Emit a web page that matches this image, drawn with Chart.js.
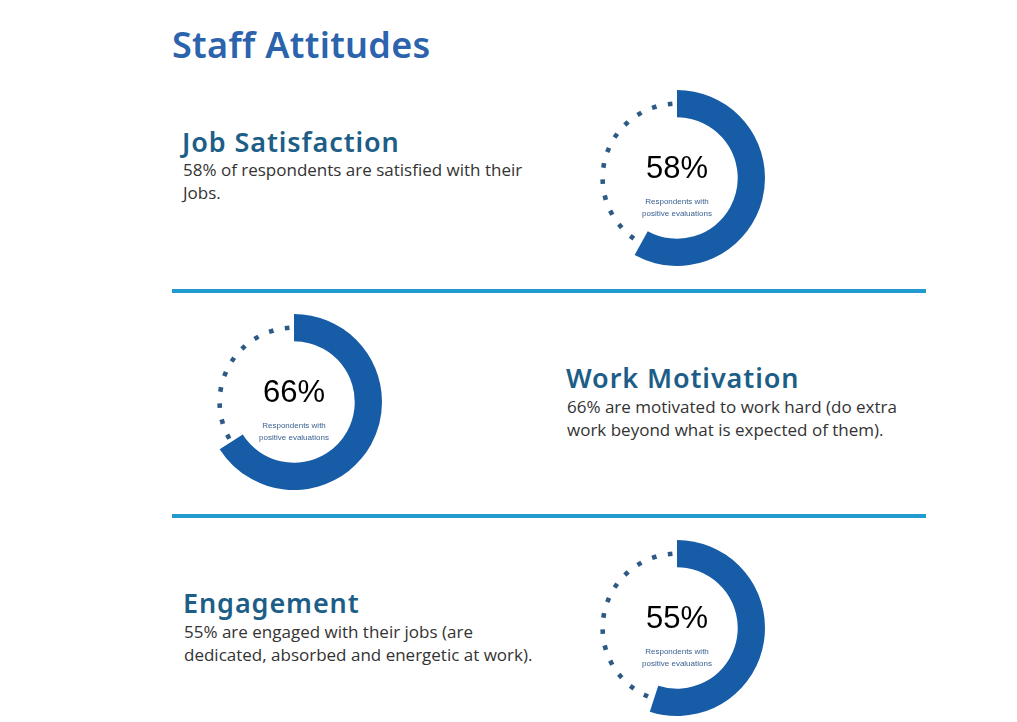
<!DOCTYPE html>
<html>
<head>
<meta charset="utf-8">
<script src="https://cdn.jsdelivr.net/npm/chart.js@4.4.0/dist/chart.umd.min.js"></script>
<style>
  body{margin:0;background:#fff;}
  #page{position:relative;width:1017px;height:722px;overflow:hidden;background:#fff;}
  .title{position:absolute;left:172px;top:27px;font-family:"Noto Sans",sans-serif;font-weight:600;font-size:36px;line-height:36px;letter-spacing:0.3px;color:#2b63ad;white-space:nowrap;}
  .head{position:absolute;font-family:"Noto Sans",sans-serif;font-weight:600;font-size:27px;line-height:27px;letter-spacing:0.9px;color:#1c5e87;white-space:nowrap;}
  .body{position:absolute;font-family:"Open Sans",sans-serif;font-size:17px;color:#333;line-height:23.5px;width:350px;}
  .rule{position:absolute;left:172px;width:754px;height:4px;background:#219ad0;}
  .ring{position:absolute;width:176px;height:176px;}
</style>
</head>
<body>
<div id="page">
  <div class="title">Staff Attitudes</div>

  <div class="head" id="h0" style="left:182px;top:128px;"></div>
  <div class="body" id="d0" style="left:183px;top:157.5px;"></div>
  <div class="ring" style="left:589px;top:90px;"><canvas id="c0" width="176" height="176"></canvas></div>

  <div class="rule" style="top:289px;"></div>

  <div class="ring" style="left:206px;top:314px;"><canvas id="c1" width="176" height="176"></canvas></div>
  <div class="head" id="h1" style="left:566px;top:364px;"></div>
  <div class="body" id="d1" style="left:567px;top:394.5px;"></div>

  <div class="rule" style="top:514px;"></div>

  <div class="head" id="h2" style="left:183px;top:589px;"></div>
  <div class="body" id="d2" style="left:184px;top:619.5px;"></div>
  <div class="ring" style="left:589px;top:540px;"><canvas id="c2" width="176" height="176"></canvas></div>
</div>
<script>
const titles=['Job Satisfaction','Work Motivation','Engagement'];
const percents=[58,66,55];
const descriptions=[
  '58% of respondents are satisfied with their Jobs.',
  '66% are motivated to work hard (do extra work beyond what is expected of them).',
  '55% are engaged with their jobs (are dedicated, absorbed and energetic at work).'
];
const centerNote=['Respondents with','positive evaluations'];

const ringColor='#175ca6';
const dotColor='#2c5a85';

// dotted track over the empty part + centre labels
const ringDecor={
  id:'ringDecor',
  afterDatasetsDraw(chart){
    const ctx=chart.ctx;
    const rest=chart.getDatasetMeta(0).data[1];
    const p=rest.getProps(['x','y','startAngle','endAngle','innerRadius','outerRadius'],true);
    const r=(p.innerRadius+p.outerRadius)/2;
    const step=12.5*Math.PI/180;
    let a=p.endAngle-5.3*Math.PI/180;
    ctx.save();
    ctx.fillStyle=dotColor;
    while(a>p.startAngle+2.5*Math.PI/180){
      ctx.save();
      ctx.translate(p.x+Math.cos(a)*r,p.y+Math.sin(a)*r);
      ctx.rotate(a);
      ctx.fillRect(-2.3,-2.3,4.6,4.6);
      ctx.restore();
      a-=step;
    }
    const i=chart.options.plugins.ringDecor.index;
    ctx.textAlign='center';
    ctx.textBaseline='alphabetic';
    ctx.fillStyle='#000';
    ctx.font='31px "Liberation Sans", Arial, sans-serif';
    ctx.fillText(percents[i]+'%',p.x,p.y+0);
    ctx.fillStyle='#3a6190';
    ctx.font='8px "Liberation Sans", Arial, sans-serif';
    ctx.fillText(centerNote[0],p.x,p.y+26);
    ctx.fillText(centerNote[1],p.x,p.y+38);
    ctx.restore();
  }
};

titles.forEach((t,i)=>{
  document.getElementById('h'+i).textContent=t;
  document.getElementById('d'+i).textContent=descriptions[i];
  new Chart(document.getElementById('c'+i).getContext('2d'),{
    type:'doughnut',
    data:{
      labels:['Positive','Other'],
      datasets:[{
        data:[percents[i],100-percents[i]],
        backgroundColor:[ringColor,'rgba(0,0,0,0)'],
        borderWidth:0
      }]
    },
    options:{
      responsive:false,
      animation:false,
      cutout:'69%',
      rotation:0,
      layout:{padding:0},
      plugins:{legend:{display:false},tooltip:{enabled:false},ringDecor:{index:i}}
    },
    plugins:[ringDecor]
  });
});
</script>
</body>
</html>
